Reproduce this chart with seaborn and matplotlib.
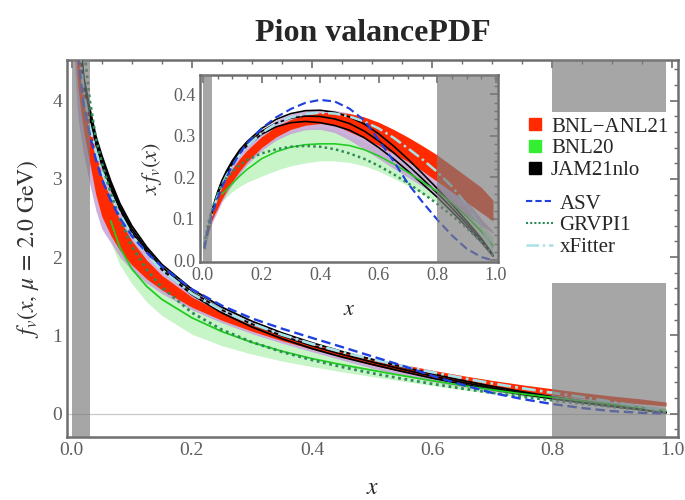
import numpy as np
import pandas as pd
import matplotlib
matplotlib.use("Agg")
import matplotlib.pyplot as plt
import seaborn as sns
from matplotlib.lines import Line2D
from matplotlib.patches import Rectangle
from matplotlib.ticker import MultipleLocator

# ---------------- data: x * f_v(x) ----------------
x_grid = [0.005, 0.01, 0.015, 0.02, 0.03, 0.04, 0.05, 0.065, 0.08, 0.1, 0.125, 0.15,
          0.2, 0.25, 0.3, 0.35, 0.4, 0.45, 0.5, 0.55, 0.6, 0.65, 0.7, 0.75, 0.8,
          0.85, 0.9, 0.95, 0.99]
nan = float("nan")

bnl_anl21_hi = [0.03, 0.05, 0.067, 0.082, 0.11, 0.133, 0.152, 0.178, 0.198, 0.221, 0.245, 0.265,
                0.298, 0.323, 0.34, 0.35, 0.356, 0.357, 0.354, 0.346, 0.333, 0.316, 0.297, 0.276, 0.254,
                0.228, 0.202, 0.176, 0.145]
bnl_anl21_lo = [0.024, 0.042, 0.058, 0.072, 0.096, 0.112, 0.126, 0.148, 0.167, 0.19, 0.215, 0.237,
                0.272, 0.298, 0.316, 0.326, 0.33, 0.327, 0.31, 0.295, 0.277, 0.258, 0.238, 0.215, 0.19,
                0.165, 0.14, 0.115, 0.095]

bnl20_mid = [nan, nan, nan, nan, nan, nan, nan, 0.16, 0.17, 0.185, 0.203, 0.219,
             0.245, 0.262, 0.273, 0.279, 0.281, 0.281, 0.277, 0.267, 0.252, 0.233, 0.212, 0.189, 0.166,
             0.138, 0.106, 0.07, 0.035]
bnl20_hi = [nan, nan, nan, nan, nan, nan, nan, 0.175, 0.19, 0.207, 0.228, 0.246,
            0.275, 0.296, 0.31, 0.318, 0.32, 0.315, 0.3, 0.285, 0.268, 0.25, 0.228, 0.205, 0.181,
            0.153, 0.122, 0.088, 0.055]
bnl20_lo = [nan, nan, nan, nan, nan, nan, nan, 0.142, 0.152, 0.166, 0.178, 0.188,
            0.203, 0.217, 0.228, 0.235, 0.24, 0.24, 0.236, 0.228, 0.215, 0.198, 0.18, 0.16, 0.14,
            0.115, 0.088, 0.055, 0.02]

jam21_hi = [0.033, 0.053, 0.071, 0.086, 0.117, 0.142, 0.165, 0.193, 0.215, 0.24, 0.266, 0.286,
            0.318, 0.34, 0.354, 0.361, 0.362, 0.357, 0.346, 0.329, 0.305, 0.276, 0.244, 0.209, 0.173,
            0.135, 0.095, 0.053, 0.014]
jam21_mid = [0.032, 0.052, 0.07, 0.085, 0.115, 0.14, 0.162, 0.19, 0.212, 0.236, 0.262, 0.281,
             0.311, 0.331, 0.343, 0.348, 0.347, 0.341, 0.33, 0.312, 0.288, 0.26, 0.229, 0.196, 0.162,
             0.126, 0.088, 0.048, 0.012]
jam21_lo = [0.031, 0.051, 0.069, 0.084, 0.113, 0.138, 0.159, 0.187, 0.209, 0.232, 0.258, 0.276,
            0.304, 0.322, 0.332, 0.335, 0.332, 0.325, 0.314, 0.296, 0.272, 0.245, 0.215, 0.184, 0.152,
            0.117, 0.081, 0.044, 0.01]

xfitter_mid = [0.03, 0.05, 0.067, 0.082, 0.11, 0.134, 0.155, 0.182, 0.204, 0.228, 0.254, 0.275,
               0.307, 0.33, 0.345, 0.353, 0.356, 0.354, 0.347, 0.335, 0.318, 0.296, 0.27, 0.243, 0.213,
               0.178, 0.135, 0.08, 0.025]
xfitter_hi = [0.032, 0.053, 0.07, 0.086, 0.115, 0.14, 0.162, 0.19, 0.212, 0.236, 0.262, 0.283,
              0.315, 0.338, 0.353, 0.361, 0.364, 0.362, 0.355, 0.343, 0.326, 0.304, 0.278, 0.25, 0.22,
              0.186, 0.145, 0.1, 0.07]
xfitter_lo = [0.022, 0.038, 0.053, 0.066, 0.088, 0.104, 0.118, 0.142, 0.16, 0.183, 0.208, 0.23,
              0.265, 0.29, 0.306, 0.315, 0.316, 0.308, 0.29, 0.268, 0.245, 0.222, 0.2, 0.178, 0.155,
              0.132, 0.108, 0.085, 0.065]

asv = [0.028, 0.047, 0.064, 0.079, 0.107, 0.13, 0.15, 0.177, 0.2, 0.227, 0.257, 0.282,
       0.318, 0.345, 0.365, 0.38, 0.387, 0.383, 0.366, 0.338, 0.29, 0.24, 0.185, 0.14, 0.098,
       0.06, 0.028, 0.008, 0.0]
grvpi1 = [0.038, 0.06, 0.078, 0.094, 0.12, 0.141, 0.16, 0.183, 0.199, 0.214, 0.23, 0.242,
          0.258, 0.268, 0.274, 0.276, 0.274, 0.268, 0.258, 0.245, 0.228, 0.208, 0.186, 0.162, 0.136,
          0.108, 0.078, 0.044, 0.012]

legend_bands = ["BNL\u2212ANL21", "BNL20", "JAM21nlo"]
legend_lines = ["ASV", "GRVPI1", "xFitter"]
main_xticks = [0.0, 0.2, 0.4, 0.6, 0.8, 1.0]
main_yticks = [0, 1, 2, 3, 4]
inset_yticks = [0.0, 0.1, 0.2, 0.3, 0.4]

# ---------------- styling ----------------
RED = "#ff2a00"
GREEN_FILL = "#c8f5c8"
GREEN_LINE = "#22cc22"
LEGEND_GREEN = "#33ee33"
LAVENDER = "#c6a2d6"
BLUE = "#2040e0"
SEA = "#2e8b57"
CYAN = "#a8e2e8"
FRAME = "#6e6e6e"
OVER = "#7c7c7c"

sns.set_theme(style="white")
plt.rcParams["font.family"] = ["Liberation Serif", "DejaVu Serif"]
plt.rcParams["mathtext.fontset"] = "stix"

cols = {
    "x": x_grid,
    "anl_hi": bnl_anl21_hi, "anl_lo": bnl_anl21_lo,
    "b20_mid": bnl20_mid, "b20_hi": bnl20_hi, "b20_lo": bnl20_lo,
    "jam_hi": jam21_hi, "jam_mid": jam21_mid, "jam_lo": jam21_lo,
    "xf_mid": xfitter_mid, "xf_hi": xfitter_hi, "xf_lo": xfitter_lo,
    "asv": asv, "grv": grvpi1,
}
xfdf = pd.DataFrame(cols)               # x * f_v(x)  (inset)
fdf = xfdf.copy()                       # f_v(x)      (main)
for c in fdf.columns:
    if c != "x":
        fdf[c] = xfdf[c] / xfdf["x"]

fig = plt.figure(figsize=(6.85, 5.0), dpi=100)
ax = fig.add_axes([67 / 685, 1 - 437 / 500, (678 - 67) / 685, (437 - 60) / 500])
ins = fig.add_axes([200 / 685, 1 - 262 / 500, 298 / 685, 187 / 500])


def draw_curves(a, d, lw_scale=1.0):
    ok = d["b20_hi"].notna()
    a.fill_between(d["x"][ok], d["b20_lo"][ok], d["b20_hi"][ok], color=GREEN_FILL, lw=0, zorder=1)
    a.fill_between(d["x"], d["xf_lo"], d["xf_hi"], color=LAVENDER, alpha=0.85, lw=0, zorder=2)
    a.fill_between(d["x"], d["anl_lo"], d["anl_hi"], color=RED, lw=0, zorder=3)
    for c in ["jam_hi", "jam_mid", "jam_lo"]:
        sns.lineplot(data=d, x="x", y=c, ax=a, color="black", lw=1.3 * lw_scale,
                     estimator=None, sort=False, legend=False, zorder=4)
    sns.lineplot(data=d[ok], x="x", y="b20_mid", ax=a, color=GREEN_LINE, lw=1.3 * lw_scale,
                 estimator=None, sort=False, legend=False, zorder=5)
    sns.lineplot(data=d, x="x", y="xf_mid", ax=a, color=CYAN, lw=2.0 * lw_scale,
                 linestyle=(0, (5, 1.5, 1, 1.5)), estimator=None, sort=False, legend=False, zorder=6)
    sns.lineplot(data=d, x="x", y="grv", ax=a, color=SEA, lw=2.0 * lw_scale,
                 linestyle=(0, (1, 1.3)), estimator=None, sort=False, legend=False, zorder=6)
    sns.lineplot(data=d, x="x", y="asv", ax=a, color=BLUE, lw=1.7 * lw_scale,
                 linestyle=(0, (4, 2)), estimator=None, sort=False, legend=False, zorder=7)


def style_frame(a, label_size):
    for s in a.spines.values():
        s.set_color(FRAME)
        s.set_linewidth(1.8)
    a.tick_params(which="both", direction="in", top=True, right=True, color=FRAME,
                  labelcolor="#5e5e5e", labelsize=label_size)
    a.tick_params(which="major", length=6, width=1.2)
    a.tick_params(which="minor", length=3, width=1.0)
    a.grid(False)


# ---- main axes ----
draw_curves(ax, fdf)
ax.axhline(0, color="#c8c8c8", lw=0.9, zorder=0.5)
ax.set_xlim(-0.008, 1.01)
ax.set_ylim(-0.3, 4.52)
y0, y1 = ax.get_ylim()
ax.add_patch(Rectangle((0.0, y0), 0.03, y1 - y0, color=OVER, alpha=0.68, lw=0, zorder=10))
ax.add_patch(Rectangle((0.8, y0), 0.19, 1.67 - y0, color=OVER, alpha=0.68, lw=0, zorder=10))
ax.add_patch(Rectangle((0.8, 3.86), 0.19, y1 - 3.86, color=OVER, alpha=0.68, lw=0, zorder=10))
ax.set_xticks(main_xticks)
ax.set_xticklabels([f"{v:.1f}" for v in main_xticks])
ax.set_yticks(main_yticks)
ax.set_yticklabels([str(v) for v in main_yticks])
ax.xaxis.set_minor_locator(MultipleLocator(0.05))
ax.yaxis.set_minor_locator(MultipleLocator(0.2))
style_frame(ax, 14)
ax.set_xlabel(r"$x$", fontsize=17, labelpad=14)
ax.set_ylabel(r"$f_v(x,\,\mu\,=\,2.0\ \mathrm{GeV})$", fontsize=17, labelpad=8, color="#333333")
ax.set_title("Pion valancePDF", fontsize=23, fontweight="bold", pad=14)

# ---- inset ----
draw_curves(ins, xfdf, lw_scale=0.9)
ins.set_xlim(-0.01, 1.007)
ins.set_ylim(-0.004, 0.447)
iy0, iy1 = ins.get_ylim()
ins.add_patch(Rectangle((0.0, iy0), 0.03, iy1 - iy0, color=OVER, alpha=0.68, lw=0, zorder=10))
ins.add_patch(Rectangle((0.8, iy0), 0.207, iy1 - iy0, color=OVER, alpha=0.68, lw=0, zorder=10))
ins.set_xticks(main_xticks)
ins.set_xticklabels([f"{v:.1f}" for v in main_xticks])
ins.set_yticks(inset_yticks)
ins.set_yticklabels([f"{v:.1f}" for v in inset_yticks])
ins.xaxis.set_minor_locator(MultipleLocator(0.05))
ins.yaxis.set_minor_locator(MultipleLocator(0.02))
style_frame(ins, 13)
ins.set_xlabel(r"$x$", fontsize=16, labelpad=12)
ins.set_ylabel(r"$x\,f_v(x)$", fontsize=16, labelpad=6, color="#333333")

# ---- legends ----
band_handles = [Line2D([], [], marker="s", linestyle="none", markersize=9, color=c)
                for c in [RED, LEGEND_GREEN, "black"]]
line_handles = [Line2D([], [], color=BLUE, lw=1.5, linestyle=(0, (3, 1.5))),
                Line2D([], [], color=SEA, lw=1.5, linestyle=(0, (1, 1))),
                Line2D([], [], color=CYAN, lw=1.8, linestyle=(0, (5, 1.5, 1, 1.5)))]
leg1 = ax.legend(band_handles, legend_bands, loc="upper left", bbox_to_anchor=(526 / 685, 1 - 117 / 500),
                 bbox_transform=fig.transFigure, frameon=False, fontsize=15, handlelength=0.9,
                 handletextpad=0.3, labelspacing=0.1, borderpad=0, borderaxespad=0)
leg1.set_zorder(20)
ax.add_artist(leg1)
leg2 = ax.legend(line_handles, legend_lines, loc="upper left", bbox_to_anchor=(526 / 685, 1 - 194 / 500),
                 bbox_transform=fig.transFigure, frameon=False, fontsize=15, handlelength=1.3,
                 handletextpad=0.3, labelspacing=0.1, borderpad=0, borderaxespad=0)
leg2.set_zorder(20)

fig.savefig("out.png", dpi=100)
